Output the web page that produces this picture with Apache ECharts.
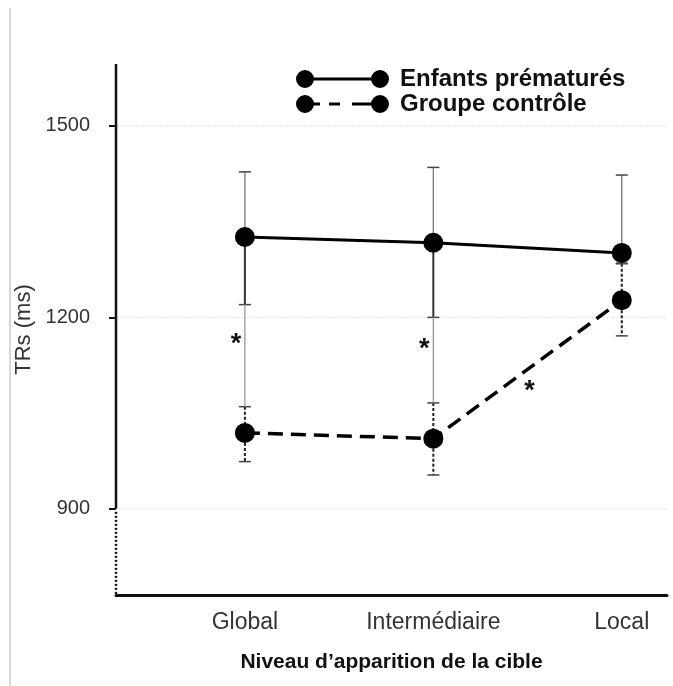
<!DOCTYPE html>
<html>
<head>
<meta charset="utf-8">
<script src="https://cdn.jsdelivr.net/npm/echarts@6/dist/echarts.min.js"></script>
<style>
  html, body { margin: 0; padding: 0; background: #fff; }
  #chart { width: 673px; height: 686px; }
</style>
</head>
<body>
<div id="chart"></div>
<script>
const categories = ['Global', 'Intermédiaire', 'Local']
const premMean = [1326, 1317, 1301]
const premHigh = [1428, 1435, 1423]
const premLow = [1220, 1200, 1285]
const ctrlMean = [1019, 1010, 1227]
const ctrlHigh = [1060, 1066, 1284]
const ctrlLow = [974, 953, 1171]
const yTicks = [900, 1200, 1500]
// significance between groups (per category) and along the control line
const sigGroups = ['Global', 'Intermédiaire']
const sigSlope = [['Intermédiaire', 'Local']]

const X_MIN = 0.316, X_MAX = 3.24
const Y_MIN = 765, Y_MAX = 1597
const FONT = 'Liberation Sans, Arial, sans-serif'

const xOf = (name) => categories.indexOf(name) + 1
const premData = categories.map((c, i) => [i + 1, premMean[i]])
const ctrlData = categories.map((c, i) => [i + 1, ctrlMean[i]])
const premBars = categories.map((c, i) => [i + 1, premLow[i], premHigh[i], premMean[i]])
const ctrlBars = categories.map((c, i) => [i + 1, ctrlLow[i], ctrlHigh[i], ctrlMean[i]])
const sigData = sigGroups.map(c => {
  const i = categories.indexOf(c)
  return [i + 1, premLow[i], ctrlHigh[i]]
})
const slopeData = sigSlope.map(([a, b]) => [xOf(a), ctrlMean[xOf(a) - 1], xOf(b), ctrlMean[xOf(b) - 1]])

function cap (p, w, style) {
  return { type: 'line', shape: { x1: p[0] - w / 2, y1: p[1], x2: p[0] + w / 2, y2: p[1] }, style }
}

function errorBar (upStyle, downStyle, capStyle) {
  return function (params, api) {
    const x = api.value(0)
    const pLo = api.coord([x, api.value(1)])
    const pHi = api.coord([x, api.value(2)])
    const pMid = api.coord([x, api.value(3)])
    return {
      type: 'group',
      children: [
        { type: 'line', shape: { x1: pHi[0], y1: pHi[1], x2: pMid[0], y2: pMid[1] }, style: upStyle },
        { type: 'line', shape: { x1: pMid[0], y1: pMid[1], x2: pLo[0], y2: pLo[1] }, style: downStyle },
        cap(pHi, 12, capStyle),
        cap(pLo, 12, capStyle)
      ]
    }
  }
}

const starStyle = { text: '*', fill: '#111', font: 'bold 27px ' + FONT, align: 'center', verticalAlign: 'middle' }

const iconSolid = 'path://M0,9A9,9 0 1,1 18,9A9,9 0 1,1 0,9Z' +
  'M17,7.5L76,7.5L76,10.5L17,10.5Z' +
  'M75,9A9,9 0 1,1 93,9A9,9 0 1,1 75,9Z'
const iconDashed = 'path://M0,9A9,9 0 1,1 18,9A9,9 0 1,1 0,9Z' +
  'M17,7.5L24,7.5L24,10.5L17,10.5Z' +
  'M33,7.5L44,7.5L44,10.5L33,10.5Z' +
  'M56,7.5L76,7.5L76,10.5L56,10.5Z' +
  'M75,9A9,9 0 1,1 93,9A9,9 0 1,1 75,9Z'

const chart = echarts.init(document.getElementById('chart'))

const option = {
  animation: false,
  backgroundColor: '#fff',
  textStyle: { fontFamily: FONT },
  graphic: [
    { type: 'line', shape: { x1: 10, y1: 8, x2: 10, y2: 686 }, style: { stroke: '#d8d8d8', lineWidth: 2 } }
  ],
  grid: { left: 116, right: 6, top: 64, bottom: 91 },
  legend: {
    orient: 'vertical',
    left: 296,
    top: 67,
    padding: 0,
    itemWidth: 93,
    itemHeight: 18,
    itemGap: 1,
    selectedMode: false,
    itemStyle: { borderWidth: 0 },
    textStyle: { fontFamily: FONT, fontSize: 24, fontWeight: 'bold', color: '#111', padding: [0, 0, 0, 6] },
    data: [
      { name: 'Enfants prématurés', icon: iconSolid },
      { name: 'Groupe contrôle', icon: iconDashed }
    ]
  },
  xAxis: {
    type: 'value',
    min: X_MIN,
    max: X_MAX,
    name: 'Niveau d’apparition de la cible',
    nameLocation: 'middle',
    nameGap: 57,
    nameTextStyle: { fontFamily: FONT, fontSize: 21, fontWeight: 'bold', color: '#111' },
    axisLine: { show: true, lineStyle: { color: '#111', width: 3 } },
    axisTick: { show: false },
    splitLine: { show: false },
    axisLabel: {
      customValues: [1, 2, 3],
      formatter: v => categories[Math.round(v) - 1],
      margin: 16,
      fontFamily: FONT,
      fontSize: 23,
      color: '#333'
    }
  },
  yAxis: {
    type: 'value',
    min: Y_MIN,
    max: Y_MAX,
    name: 'TRs (ms)',
    nameLocation: 'middle',
    nameRotate: 90,
    nameGap: 71,
    nameTextStyle: { fontFamily: FONT, fontSize: 22, color: '#333' },
    axisLine: { show: false },
    axisTick: { show: true, customValues: yTicks, length: 7, lineStyle: { color: '#111', width: 2 } },
    splitLine: { show: false },
    axisLabel: {
      customValues: yTicks,
      formatter: v => String(v),
      margin: 26,
      fontFamily: FONT,
      fontSize: 20,
      color: '#333'
    }
  },
  series: [
    {
      // y axis line (solid above 900, dotted break below) and faint gridlines
      type: 'custom',
      silent: true,
      z: 1,
      data: [[0]],
      renderItem (params, api) {
        const children = yTicks.map(t => {
          const a = api.coord([X_MIN, t])
          const b = api.coord([X_MAX, t])
          return { type: 'line', shape: { x1: a[0] + 2, y1: a[1], x2: b[0], y2: b[1] }, style: { stroke: '#e4e4e4', lineWidth: 1, lineDash: [2, 1] } }
        })
        const top = api.coord([X_MIN, Y_MAX])
        const brk = api.coord([X_MIN, yTicks[0]])
        const bot = api.coord([X_MIN, Y_MIN])
        children.push({ type: 'line', shape: { x1: top[0], y1: top[1], x2: brk[0], y2: brk[1] }, style: { stroke: '#111', lineWidth: 2.5 } })
        children.push({ type: 'line', shape: { x1: brk[0], y1: brk[1] + 3, x2: bot[0], y2: bot[1] }, style: { stroke: '#111', lineWidth: 2.5, lineDash: [2, 2] } })
        return { type: 'group', children }
      }
    },
    {
      type: 'custom',
      silent: true,
      z: 2,
      data: premBars,
      renderItem: errorBar(
        { stroke: '#777', lineWidth: 1.3 },
        { stroke: '#333', lineWidth: 2 },
        { stroke: '#444', lineWidth: 1.5 }
      )
    },
    {
      type: 'custom',
      silent: true,
      z: 2,
      data: ctrlBars,
      renderItem: errorBar(
        { stroke: '#222', lineWidth: 2, lineDash: [3, 2] },
        { stroke: '#222', lineWidth: 2, lineDash: [3, 2] },
        { stroke: '#444', lineWidth: 1.5 }
      )
    },
    {
      // significance between groups
      type: 'custom',
      silent: true,
      z: 2,
      data: sigData,
      renderItem (params, api) {
        const x = api.value(0)
        const a = api.coord([x, api.value(1)])
        const b = api.coord([x, api.value(2)])
        return {
          type: 'group',
          children: [
            { type: 'line', shape: { x1: a[0], y1: a[1], x2: b[0], y2: b[1] }, style: { stroke: '#999', lineWidth: 1.3 } },
            { type: 'text', x: a[0] - 9, y: (a[1] + b[1]) / 2 - 11, style: starStyle }
          ]
        }
      }
    },
    {
      // significance along the control line
      type: 'custom',
      silent: true,
      z: 2,
      data: slopeData,
      renderItem (params, api) {
        const a = api.coord([api.value(0), api.value(1)])
        const b = api.coord([api.value(2), api.value(3)])
        return { type: 'text', x: (a[0] + b[0]) / 2 + 2, y: (a[1] + b[1]) / 2 + 22, style: starStyle }
      }
    },
    {
      name: 'Enfants prématurés',
      type: 'line',
      z: 5,
      data: premData,
      symbol: 'circle',
      symbolSize: 20,
      itemStyle: { color: '#000', borderWidth: 0 },
      lineStyle: { color: '#000', width: 3 }
    },
    {
      name: 'Groupe contrôle',
      type: 'line',
      z: 5,
      data: ctrlData,
      symbol: 'circle',
      symbolSize: 20,
      itemStyle: { color: '#000', borderWidth: 0 },
      lineStyle: { color: '#000', width: 3.5, type: [15, 8] }
    }
  ]
}

chart.setOption(option)
</script>
</body>
</html>
